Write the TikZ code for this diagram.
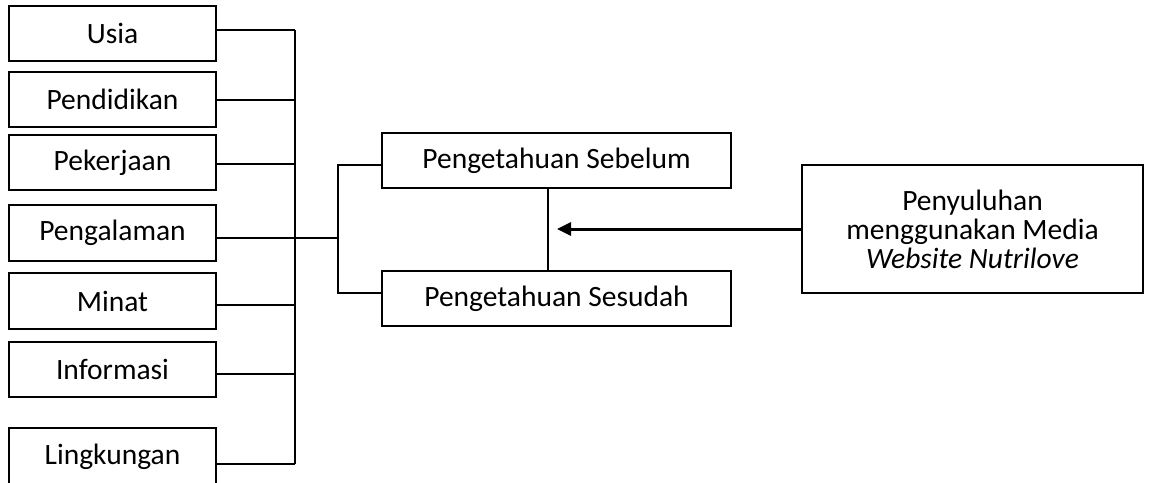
\documentclass[tikz,border=0pt]{standalone}
\usepackage{fontspec}
\setmainfont{Carlito}
\usetikzlibrary{arrows.meta}
\begin{document}
\begin{tikzpicture}[x=1pt,y=-1pt,
  box/.style={draw, line width=1.8pt, inner sep=0pt, align=center,
    font=\fontsize{29.5}{29}\selectfont},
  leftbox/.style={box, minimum width=207pt, minimum height=55pt},
  midbox/.style={box, minimum width=349pt, minimum height=55pt},
  link/.style={line width=1.2pt},
  push/.style={line width=3pt, -{Triangle[length=14pt,width=13pt]}}]
\useasboundingbox (0,0) rectangle (1155,482);

% factor boxes on the left
\node[leftbox] (usia)   at (112.5,33.5)  {Usia};
\node[leftbox] (didik)  at (112.5,99.5)  {Pendidikan};
\node[leftbox] (kerja)  at (112.5,162.5) {Pekerjaan};
\node[leftbox, minimum height=56pt] (alam) at (112.5,233) {Pengalaman};
\node[leftbox, minimum height=56pt] (minat) at (112.5,301) {Minat};
\node[leftbox] (info)   at (112.5,369.5) {Informasi};
\node[leftbox, minimum height=58pt] (ling) at (112.5,457) {Lingkungan};

% knowledge boxes
\node[midbox] (sebelum) at (556.5,160.5) {Pengetahuan Sebelum};
\node[midbox] (sesudah) at (556.5,298.5) {Pengetahuan Sesudah};

% intervention box
\node[box, minimum width=341pt, minimum height=128pt] (media) at (972.5,229)
  {Penyuluhan\\menggunakan Media\\\textit{Website Nutrilove}};

% collecting bus
\coordinate (busT) at (295,30);
\coordinate (busB) at (295,464);
\draw[link] (busT) -- (busB);
\draw[link] (usia.east  |- 0,30)  -- (busT);
\draw[link] (didik.east |- 0,100) -- (295,100);
\draw[link] (kerja.east |- 0,164) -- (295,164);
\draw[link] (minat.east |- 0,305) -- (295,305);
\draw[link] (info.east  |- 0,374) -- (295,374);
\draw[link] (ling.east  |- 0,464) -- (busB);

% branch to the knowledge boxes
\coordinate (fork) at (338,238);
\draw[link] (alam.east |- fork) -- (fork);
\draw[link] (sebelum.west |- 0,165) -| (fork) |- (sesudah.west |- 0,293);

% link between before and after
\coordinate (mid) at (548,229);
\draw[link] (sebelum.south -| mid) -- (sesudah.north -| mid);

% intervention arrow
\coordinate (tip) at (557,229);
\draw[push] (media.west) -- (tip);
\end{tikzpicture}
\end{document}
